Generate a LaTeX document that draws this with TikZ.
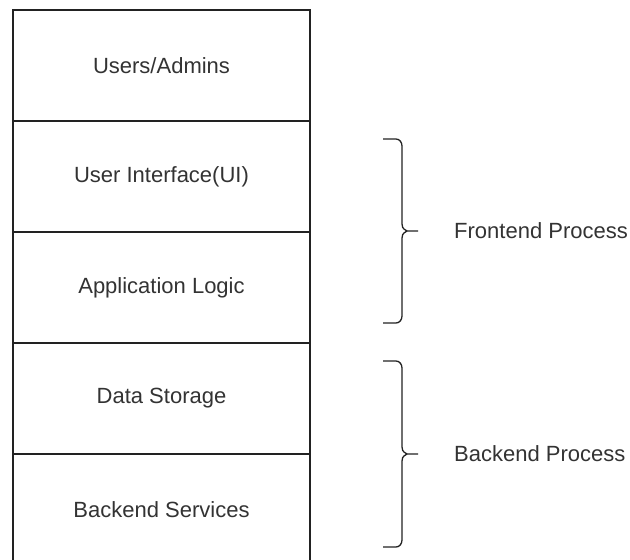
\documentclass[tikz,border=0pt]{standalone}
\usepackage{fontspec}
\setmainfont{Liberation Sans}
\definecolor{txt}{HTML}{333333}
\definecolor{ln}{HTML}{222222}
\begin{document}
\begin{tikzpicture}[x=1pt,y=-1pt,
  layer/.style={draw=ln,line width=1.3pt,minimum width=297pt,minimum height=111pt,
    inner sep=0pt,outer sep=0pt,font=\fontsize{22}{25}\selectfont,text=txt},
  bracelbl/.style={anchor=west,inner sep=0pt,font=\fontsize{22}{25}\selectfont,text=txt},
  bracepath/.style={draw=ln,line width=1.3pt}]
\useasboundingbox (0,0) rectangle (630,560);
\fill[white] (0,0) rectangle (630,560);
\node[layer] (users) at (161.5,65.5) {Users/Admins};
\node[layer] (ui)    at (161.5,176.5) {User Interface(UI)};
\node[layer] (logic) at (161.5,287.5) {Application Logic};
\node[layer] (data)  at (161.5,398.5) {Data Storage};
\node[layer] (serv)  at (161.5,509.5) {Backend Services};
% frontend brace
\coordinate (ft) at (383,139);
\coordinate (fb) at (383,323);
\coordinate (fm) at (418,231);
\draw[bracepath] (ft) -- ++(13,0) to[out=0,in=90] ++(6,7) -- (402,219)
  .. controls (402,228) .. (407,231) -- (fm);
\draw[bracepath] (fb) -- ++(13,0) to[out=0,in=-90] ++(6,-7) -- (402,243)
  .. controls (402,234) .. (407,231);
\node[bracelbl] (fe) at (454,231) {Frontend Process};
% backend brace
\coordinate (bt) at (383,361);
\coordinate (bb) at (383,547);
\coordinate (bm) at (418,454);
\draw[bracepath] (bt) -- ++(13,0) to[out=0,in=90] ++(6,7) -- (402,442)
  .. controls (402,451) .. (407,454) -- (bm);
\draw[bracepath] (bb) -- ++(13,0) to[out=0,in=-90] ++(6,-7) -- (402,466)
  .. controls (402,457) .. (407,454);
\node[bracelbl] (be) at (454,454) {Backend Process};
\end{tikzpicture}
\end{document}
